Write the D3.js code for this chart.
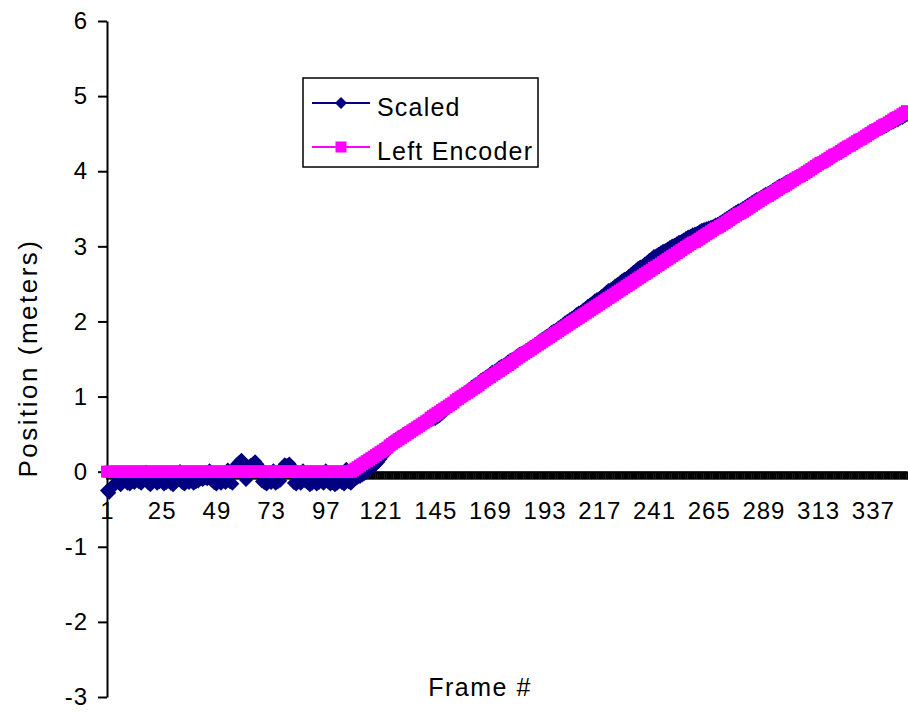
<!DOCTYPE html>
<html>
<head>
<meta charset="utf-8">
<script src="https://cdn.jsdelivr.net/npm/d3@7"></script>
<style>
  body { margin: 0; background: #fff; }
  svg text { font-family: "Liberation Sans", Arial, sans-serif; fill: #000; }
</style>
</head>
<body>
<div id="chart"></div>
<script>
// categories: frame numbers 1..352
const frames = d3.range(1, 353);
const xLabels = [1, 25, 49, 73, 97, 121, 145, 169, 193, 217, 241, 265, 289, 313, 337];
const yTicks = [-3, -2, -1, 0, 1, 2, 3, 4, 5, 6];
const seriesNames = ["Scaled", "Left Encoder"];

// Scaled (noisy vision estimate), frames 1..352
const scaled = [
  -0.25,-0.28,-0.22,-0.17,-0.14,-0.15,-0.18,-0.14,-0.12,-0.16,-0.17,-0.13,
  -0.15,-0.04,-0.14,-0.16,-0.12,0.00,-0.15,-0.18,-0.13,-0.11,-0.16,-0.14,
  -0.12,-0.17,-0.15,-0.13,-0.16,-0.18,-0.14,-0.11,0.01,-0.15,-0.17,-0.13,
  -0.15,-0.12,-0.16,-0.14,-0.13,-0.10,-0.11,-0.09,-0.10,0.02,-0.12,-0.15,
  -0.17,-0.14,-0.16,-0.13,-0.15,0.03,-0.14,-0.16,0.05,0.10,0.13,0.16,
  0.12,-0.11,0.07,0.09,0.11,0.14,0.10,0.06,-0.13,-0.15,-0.17,-0.13,
  -0.15,0.02,-0.16,-0.14,-0.12,0.06,0.10,0.09,0.11,0.07,-0.15,-0.17,
  -0.14,-0.16,0.02,-0.13,-0.15,-0.18,-0.16,-0.14,-0.17,-0.15,-0.13,-0.16,
  0.02,-0.14,-0.17,-0.15,-0.18,-0.16,-0.13,-0.15,-0.17,0.04,-0.14,-0.16,
  -0.12,-0.10,-0.08,-0.07,-0.05,-0.03,-0.01,0.02,0.05,0.07,0.10,0.13,
  0.17,0.21,0.25,0.30,0.34,0.40,0.42,0.44,0.46,0.47,0.50,0.51,
  0.53,0.54,0.56,0.58,0.59,0.62,0.63,0.64,0.66,0.67,0.68,0.69,
  0.70,0.72,0.74,0.77,0.80,0.83,0.87,0.90,0.93,0.95,0.98,1.00,
  1.03,1.05,1.08,1.10,1.13,1.15,1.17,1.19,1.22,1.24,1.26,1.28,
  1.30,1.33,1.34,1.36,1.39,1.41,1.42,1.44,1.47,1.49,1.50,1.52,
  1.55,1.57,1.58,1.60,1.62,1.64,1.66,1.68,1.70,1.72,1.75,1.77,
  1.79,1.81,1.83,1.86,1.88,1.89,1.92,1.94,1.96,1.99,2.01,2.03,
  2.05,2.07,2.10,2.12,2.13,2.16,2.18,2.21,2.23,2.25,2.28,2.30,
  2.31,2.34,2.36,2.39,2.42,2.43,2.45,2.48,2.50,2.52,2.55,2.57,
  2.58,2.61,2.63,2.66,2.68,2.71,2.73,2.74,2.77,2.79,2.82,2.84,
  2.87,2.88,2.90,2.92,2.94,2.95,2.97,2.99,3.01,3.02,3.04,3.06,
  3.07,3.09,3.11,3.13,3.14,3.16,3.17,3.18,3.20,3.22,3.23,3.24,
  3.25,3.26,3.27,3.29,3.30,3.32,3.34,3.36,3.38,3.40,3.42,3.44,
  3.46,3.48,3.49,3.51,3.53,3.55,3.57,3.59,3.61,3.63,3.64,3.66,
  3.68,3.70,3.71,3.73,3.75,3.77,3.79,3.81,3.82,3.84,3.86,3.87,
  3.89,3.90,3.92,3.94,3.95,3.97,3.99,4.01,4.02,4.04,4.06,4.08,
  4.10,4.12,4.13,4.15,4.17,4.19,4.20,4.22,4.24,4.26,4.27,4.29,
  4.31,4.32,4.34,4.36,4.38,4.39,4.41,4.43,4.44,4.46,4.48,4.50,
  4.51,4.53,4.54,4.56,4.57,4.59,4.60,4.62,4.64,4.65,4.67,4.68,
  4.70,4.71,4.73,4.75
];

// Left Encoder, frames 1..352
const leftEncoder = [
  0,0,0,0,0,0,0,0,0,0,0,0,
  0,0,0,0,0,0,0,0,0,0,0,0,
  0,0,0,0,0,0,0,0,0,0,0,0,
  0,0,0,0,0,0,0,0,0,0,0,0,
  0,0,0,0,0,0,0,0,0,0,0,0,
  0,0,0,0,0,0,0,0,0,0,0,0,
  0,0,0,0,0,0,0,0,0,0,0,0,
  0,0,0,0,0,0,0,0,0,0,0,0,
  0,0,0,0,0,0,0,0,0,0,0,0,
  0.02,0.04,0.06,0.08,0.10,0.12,0.14,0.16,0.18,0.20,0.22,0.24,
  0.26,0.28,0.30,0.32,0.35,0.37,0.39,0.41,0.43,0.45,0.47,0.49,
  0.51,0.53,0.55,0.57,0.59,0.61,0.63,0.65,0.67,0.69,0.72,0.74,
  0.76,0.78,0.80,0.82,0.84,0.86,0.88,0.90,0.92,0.95,0.97,0.99,
  1.01,1.03,1.05,1.07,1.09,1.11,1.13,1.15,1.18,1.20,1.22,1.24,
  1.26,1.28,1.30,1.32,1.34,1.36,1.38,1.40,1.42,1.44,1.46,1.49,
  1.51,1.53,1.55,1.57,1.59,1.61,1.63,1.65,1.67,1.69,1.71,1.73,
  1.75,1.77,1.79,1.81,1.83,1.85,1.87,1.89,1.91,1.93,1.95,1.97,
  1.99,2.01,2.03,2.05,2.07,2.09,2.11,2.13,2.15,2.17,2.19,2.21,
  2.23,2.25,2.27,2.29,2.31,2.33,2.35,2.37,2.39,2.41,2.43,2.45,
  2.47,2.49,2.51,2.53,2.55,2.57,2.59,2.61,2.63,2.65,2.67,2.69,
  2.71,2.73,2.75,2.77,2.79,2.81,2.83,2.85,2.87,2.89,2.91,2.93,
  2.95,2.97,2.99,3.01,3.03,3.05,3.06,3.08,3.10,3.12,3.14,3.16,
  3.18,3.20,3.22,3.24,3.25,3.27,3.29,3.31,3.33,3.35,3.37,3.39,
  3.41,3.43,3.44,3.46,3.48,3.50,3.52,3.54,3.56,3.58,3.60,3.62,
  3.64,3.66,3.67,3.69,3.71,3.73,3.75,3.77,3.79,3.80,3.82,3.84,
  3.86,3.88,3.90,3.92,3.93,3.95,3.97,3.99,4.01,4.03,4.05,4.07,
  4.09,4.11,4.12,4.14,4.16,4.18,4.20,4.22,4.23,4.25,4.27,4.29,
  4.31,4.33,4.34,4.36,4.38,4.40,4.42,4.43,4.45,4.47,4.49,4.51,
  4.53,4.55,4.56,4.58,4.60,4.62,4.63,4.65,4.67,4.69,4.71,4.72,
  4.74,4.76,4.78,4.80
];

const width = 908, height = 715;
const navy = "#000080", magenta = "#ff00ff";

const svg = d3.select("#chart").append("svg")
    .attr("width", width)
    .attr("height", height);

const x = d3.scalePoint().domain(frames).range([107, 907]);
const y = d3.scaleLinear().domain([-3, 6]).range([697, 21]);

// y axis
const yAxis = svg.append("g")
    .attr("transform", "translate(107,0)")
    .call(d3.axisLeft(y).tickValues(yTicks).tickSize(9).tickSizeOuter(0).tickPadding(10)
        .tickFormat(d => String(d)));

// x axis sits at y = 0, ticks on every frame
const xAxis = svg.append("g")
    .attr("transform", `translate(0,${y(0)})`)
    .call(d3.axisBottom(x).tickValues(frames).tickSize(8).tickSizeOuter(0).tickPadding(22)
        .tickFormat(d => xLabels.includes(d) ? String(d) : ""));

svg.selectAll(".domain").attr("stroke", "#000").attr("stroke-width", 2);
yAxis.selectAll(".tick line").attr("stroke", "#000").attr("stroke-width", 2);
xAxis.selectAll(".tick line").attr("stroke", "#000").attr("stroke-width", 2.6);
svg.selectAll(".tick text").style("font-size", "24px").style("font-family", "'Liberation Sans', Arial, sans-serif");
xAxis.selectAll(".tick text").attr("letter-spacing", 1);
yAxis.selectAll(".tick text").attr("letter-spacing", 1);

// series
const line = d3.line()
    .x((d, i) => x(frames[i]))
    .y(d => y(d));

const diamond = d3.symbol().type(d3.symbolSquare).size(98)();
const square = d3.symbol().type(d3.symbolSquare).size(144)();

svg.append("path")
    .datum(scaled)
    .attr("fill", "none")
    .attr("stroke", navy)
    .attr("stroke-width", 2.5)
    .attr("d", line);
svg.append("g").selectAll("path")
    .data(scaled)
    .enter()
    .append("path")
    .attr("d", diamond)
    .attr("fill", navy)
    .attr("transform", (d, i) => `translate(${x(frames[i])},${y(d)}) rotate(45)`);

svg.append("path")
    .datum(leftEncoder)
    .attr("fill", "none")
    .attr("stroke", magenta)
    .attr("stroke-width", 2.5)
    .attr("d", line);
svg.append("g").selectAll("path")
    .data(leftEncoder)
    .enter()
    .append("path")
    .attr("d", square)
    .attr("fill", magenta)
    .attr("transform", (d, i) => `translate(${x(frames[i])},${y(d)})`);

// axis titles
svg.append("text")
    .attr("x", 480)
    .attr("y", 696)
    .attr("text-anchor", "middle")
    .attr("letter-spacing", 1.5)
    .style("font-size", "25px")
    .text("Frame #");

svg.append("text")
    .attr("transform", "translate(37,358) rotate(-90)")
    .attr("text-anchor", "middle")
    .attr("letter-spacing", 2.5)
    .style("font-size", "26px")
    .text("Position  (meters)");

// legend
const legend = svg.append("g");
legend.append("rect")
    .attr("x", 303).attr("y", 78)
    .attr("width", 235).attr("height", 89)
    .attr("fill", "#fff")
    .attr("stroke", "#000")
    .attr("stroke-width", 1.5);

const rows = [
    { name: seriesNames[0], color: navy, shape: d3.symbol().type(d3.symbolSquare).size(72)(), rot: 45, cy: 103 },
    { name: seriesNames[1], color: magenta, shape: d3.symbol().type(d3.symbolSquare).size(121)(), rot: 0, cy: 147 }
];
rows.forEach(r => {
    legend.append("line")
        .attr("x1", 312).attr("x2", 370)
        .attr("y1", r.cy).attr("y2", r.cy)
        .attr("stroke", r.color).attr("stroke-width", 2);
    legend.append("path")
        .attr("d", r.shape)
        .attr("fill", r.color)
        .attr("transform", `translate(341,${r.cy}) rotate(${r.rot})`);
    legend.append("text")
        .attr("x", 377)
        .attr("y", r.cy + 6)
        .attr("dominant-baseline", "middle")
        .attr("letter-spacing", 1.2)
        .style("font-size", "25px")
        .text(r.name);
});
</script>
</body>
</html>
